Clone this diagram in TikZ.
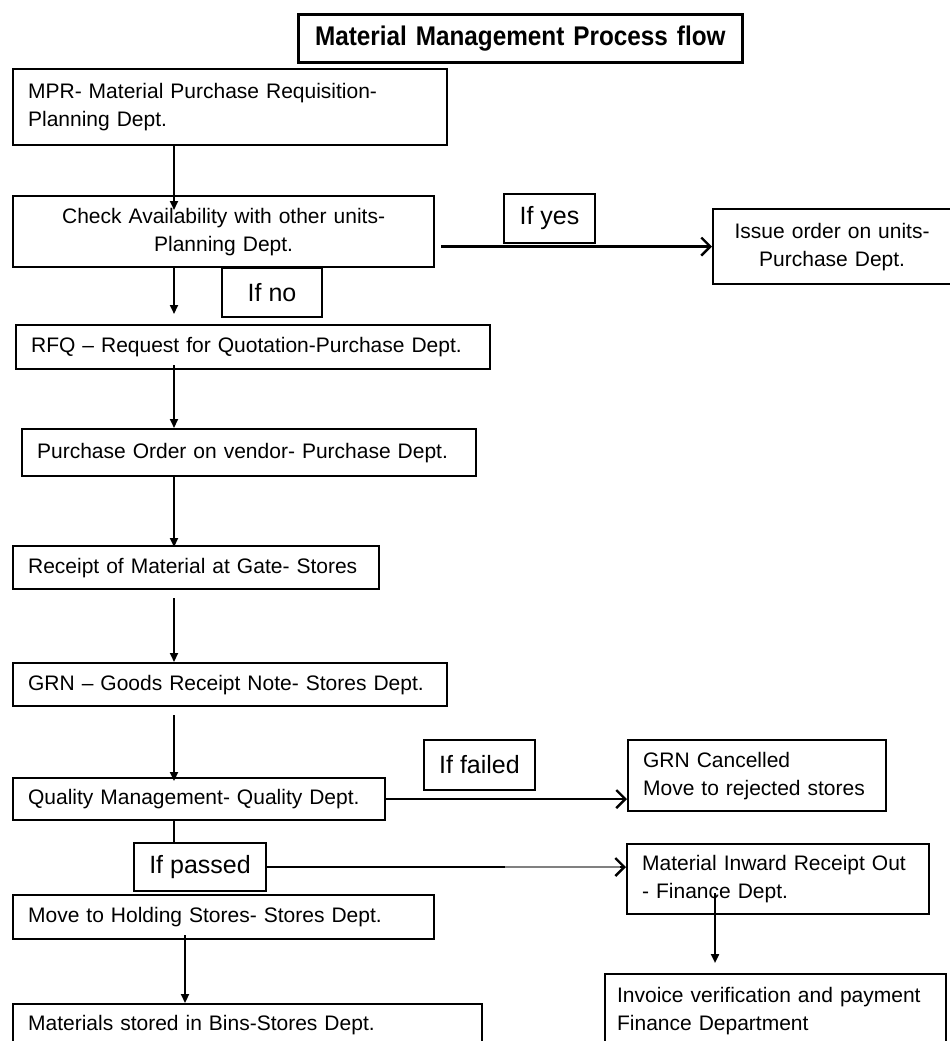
\documentclass[tikz,border=0pt]{standalone}
\usepackage{fontspec}
\setmainfont{Liberation Sans}
\usetikzlibrary{arrows.meta}

\tikzset{
	box/.style={draw, line width=2.2pt, anchor=north west, inner xsep=15pt, inner ysep=2pt, font=\fontsize{21}{28}\selectfont},
	lbox/.style={box, align=left},
	cbox/.style={box, inner xsep=8pt, align=center},
	cond/.style={draw, line width=2pt, anchor=north west, inner sep=3pt, font=\fontsize{25}{28}\selectfont},
	down/.style={line width=2.2pt, -{Triangle[length=9pt,width=8pt]}},
	side/.style={line width=2.4pt, -{Straight Barb[length=9pt,width=18pt]}},
}

\begin{document}
\begin{tikzpicture}[x=1pt, y=-1pt]

	\useasboundingbox (0,0) rectangle (950,1041);
	\coordinate (trunk) at (174,0);
	\coordinate (fin) at (715,0);
	\coordinate (store) at (185,0);

	\node[cbox, line width=2.6pt, font=\bfseries\addfontfeature{FakeStretch=0.9}\fontsize{27}{30}\selectfont, text width=428pt, minimum height=48pt] (title) at (297,13) {Material Management Process flow};

	\node[lbox, text width=404pt, minimum height=76pt] (mpr) at (12,68) {MPR- Material Purchase Requisition-\\Planning Dept.};
	\node[cbox, text width=405pt, minimum height=71pt] (check) at (12,195) {Check Availability with other units-\\Planning Dept.};
	\node[cond, minimum width=91pt, minimum height=49pt] (yes) at (503,193) {If yes};
	\node[cbox, text width=222pt, minimum height=75pt] (issue) at (712,208) {Issue order on units-\\Purchase Dept.};
	\node[cond, minimum width=100pt, minimum height=49pt] (no) at (221,267) {If no};
	\node[lbox, text width=444pt, minimum height=44pt] (rfq) at (15,324) {RFQ -- Request for Quotation-Purchase Dept.};
	\node[lbox, text width=424pt, minimum height=47pt] (po) at (21,428) {Purchase Order on vendor- Purchase Dept.};
	\node[lbox, text width=336pt, minimum height=43pt] (gate) at (12,545) {Receipt of Material at Gate- Stores};
	\node[lbox, text width=404pt, minimum height=43pt] (grn) at (12,662) {GRN -- Goods Receipt Note- Stores Dept.};
	\node[cond, minimum width=111pt, minimum height=50pt] (failed) at (423,739) {If failed};
	\node[lbox, text width=342pt, minimum height=42pt] (qm) at (12,777) {Quality Management- Quality Dept.};
	\node[lbox, text width=228pt, minimum height=71pt] (cancel) at (627,739) {GRN Cancelled\\Move to rejected stores};
	\node[cond, minimum width=132pt, minimum height=48pt] (passed) at (133,842) {If passed};
	\node[lbox, text width=272pt, minimum height=70pt] (inward) at (626,843) {Material Inward Receipt Out\\- Finance Dept.};
	\node[lbox, text width=391pt, minimum height=44pt] (holding) at (12,894) {Move to Holding Stores- Stores Dept.};
	\node[lbox, text width=439pt, minimum height=42pt] (bins) at (12,1003) {Materials stored in Bins-Stores Dept.};
	\node[lbox, inner xsep=12pt, text width=317pt, minimum height=74pt] (invoice) at (604,973) {Invoice verification and payment\\Finance Department};

	\draw[down] (mpr.south -| trunk) -- ([yshift=-15pt]check.north -| trunk);
	\draw[side] ([xshift=6pt]check.east |- issue.west) -- (issue.west);
	\draw[down] (check.south -| trunk) -- ([yshift=10pt]rfq.north -| trunk);
	\draw[down] ([yshift=5pt]rfq.south -| trunk) -- (po.north -| trunk);
	\draw[down] (po.south -| trunk) -- ([yshift=-2pt]gate.north -| trunk);
	\draw[down] ([yshift=-8pt]gate.south -| trunk) -- (grn.north -| trunk);
	\draw[down] ([yshift=-8pt]grn.south -| trunk) -- ([yshift=-4pt]qm.north -| trunk);
	\draw[side] (qm.east) -- (qm.east -| cancel.west);
	\draw[line width=2.2pt] ([yshift=2pt]qm.south -| trunk) -- (passed.north -| trunk);
	\draw[side] (passed.east) -- (passed.east -| inward.west);
	\draw[gray, line width=1.4pt] ([xshift=-121pt]passed.east -| inward.west) -- ([xshift=-6pt]passed.east -| inward.west);
	\draw[down] ([yshift=-50pt]inward.north -| fin) -- ([yshift=10pt]invoice.north -| fin);
	\draw[down] ([yshift=5pt]holding.south -| store) -- (bins.north -| store);

\end{tikzpicture}
\end{document}
